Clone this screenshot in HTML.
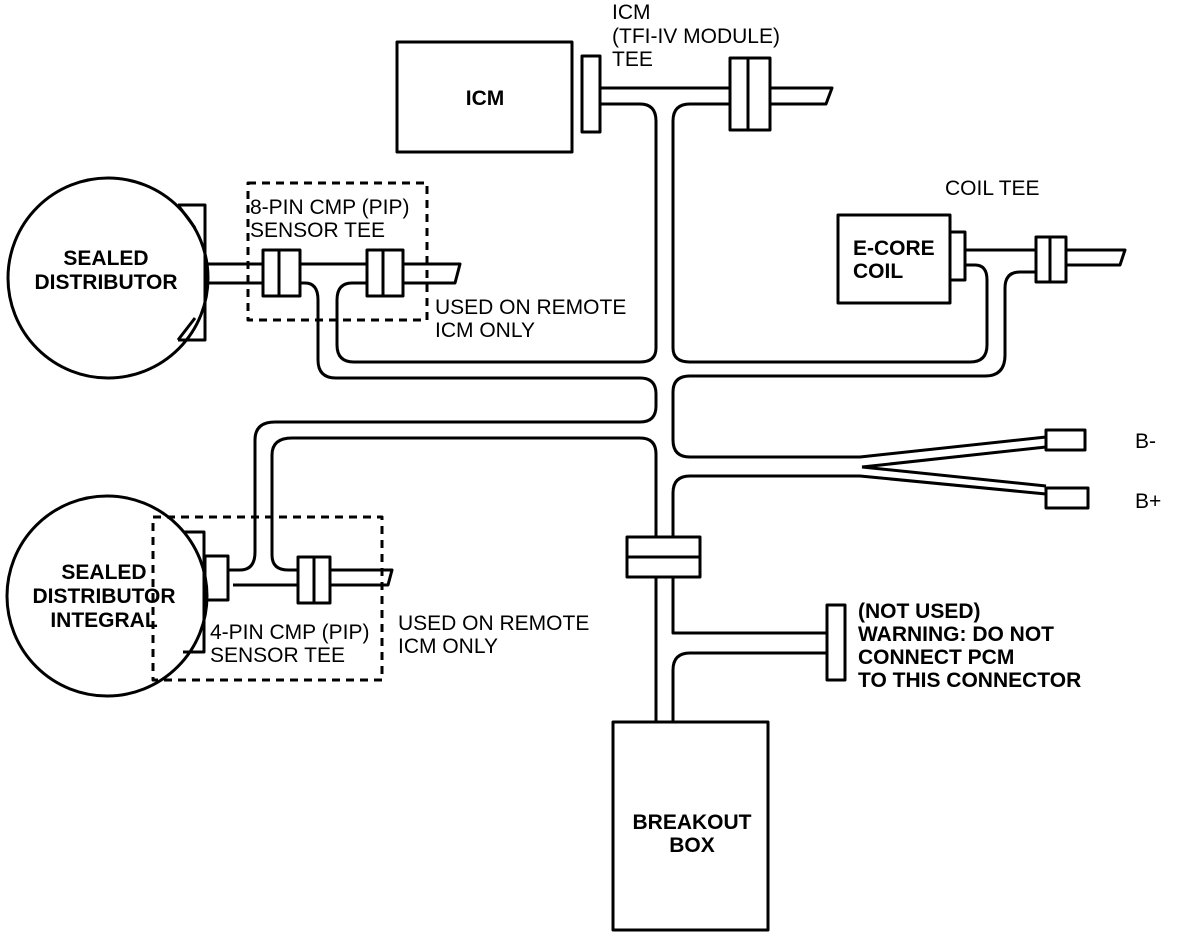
<!DOCTYPE html>
<html><head><meta charset="utf-8"><style>
html,body{margin:0;padding:0;background:#fff}
svg{display:block}
text{font-family:"Liberation Sans",Arial,sans-serif;font-size:21px;fill:#000}
.b{font-weight:bold;font-size:21px}
</style></head><body>
<svg width="1184" height="940" viewBox="0 0 1184 940" xmlns="http://www.w3.org/2000/svg">
<g fill="none" stroke="#000" stroke-width="3" stroke-linejoin="round">
<!-- ICM -->
<rect x="397" y="42" width="175" height="110" fill="#fff"/>
<rect x="582" y="56" width="18" height="76"/>
<path d="M600 88 H730 M770 88 H832 L826 104 H770 M730 104 H690 Q673 104 673 121 V348 Q673 362 690 362 H970 Q987 362 987 345 V280 Q987 265 975 265 H965"/>
<path d="M690 376 H985 Q1005 376 1005 355 V288 Q1005 272 1020 272 H1036"/>
<path d="M690 376 Q673 376 673 392 V440 Q673 457 690 457 H860 L1046 437"/>
<path d="M690 476 Q673 476 673 493 V633 H827 M827 653 H690 Q673 653 673 670 V722"/>
<path d="M690 476 H860 L1046 494"/>
<path d="M600 104 H640 Q656 104 656 121 V348 Q656 362 640 362 H354 Q337 362 337 345 V300 Q337 283 352 283 H367"/>
<path d="M300 283 H305 Q318 283 318 300 V360 Q318 378 336 378 H640 Q656 378 656 394 V406 Q656 422 640 422 H275 Q255 422 255 440 V552 Q255 570 240 570 H228"/>
<path d="M298 570 H288 Q272 570 272 555 V455 Q272 438 292 438 H640 Q656 438 656 454 V722"/>
<rect x="730" y="58" width="40" height="72" fill="#fff"/><line x1="748" y1="58" x2="748" y2="130"/>
<!-- sealed distributor -->
<circle cx="108" cy="278" r="100"/>
<path d="M178 205 H205 V340 H178 M178 205 L195 228 M178 340 L195 318"/>
<path d="M205 264 H263 M300 264 H367 M403 264 H460 L455 283 H403"/>
<path d="M205 283 H263"/>
<rect x="263" y="250" width="37" height="46" fill="#fff"/><line x1="279" y1="250" x2="279" y2="296"/>
<rect x="367" y="250" width="36" height="46" fill="#fff"/><line x1="383" y1="250" x2="383" y2="296"/>
<rect x="248" y="183" width="179" height="137" stroke-dasharray="8,6"/>
<!-- coil -->
<rect x="838" y="215" width="112" height="88" fill="#fff"/>
<rect x="950" y="232" width="15" height="48"/>
<path d="M965 250 H1036 M1066 250 H1125 L1120 265 H1066"/>
<rect x="1036" y="237" width="30" height="45" fill="#fff"/><line x1="1050" y1="237" x2="1050" y2="282"/>
<!-- B- B+ -->
<path d="M862 467 L1046 447 M862 467 L1046 486"/>
<path d="M1046 430 H1085 V450 H1046 Z"/>
<path d="M1046 488 H1088 V508 H1046 Z"/>
<!-- integral distributor -->
<circle cx="107" cy="596" r="100"/>
<path d="M183 532 H204 V652 H183"/>
<rect x="205" y="556" width="23" height="44"/>
<path d="M233 585 H298 M330 570 H392 L388 585 H330"/>
<rect x="298" y="557" width="32" height="46" fill="#fff"/><line x1="314" y1="557" x2="314" y2="603"/>
<rect x="153" y="517" width="229" height="163" stroke-dasharray="8,6"/>
<!-- breakout tee and not used -->
<rect x="627" y="537" width="73" height="40" fill="#fff"/><line x1="627" y1="557" x2="700" y2="557"/>
<rect x="827" y="605" width="18" height="75" fill="#fff"/>
<rect x="613" y="722" width="155" height="208" fill="#fff"/>
</g>
<text x="612" y="19">ICM</text>
<text x="612" y="43">(TFI-IV MODULE)</text>
<text x="612" y="66">TEE</text>
<text class="b" x="485" y="105" text-anchor="middle">ICM</text>
<text class="b" x="106" y="265" text-anchor="middle">SEALED</text>
<text class="b" x="106" y="289" text-anchor="middle">DISTRIBUTOR</text>
<text x="250" y="214">8-PIN CMP (PIP)</text>
<text x="250" y="237">SENSOR TEE</text>
<text x="435" y="314">USED ON REMOTE</text>
<text x="435" y="337">ICM ONLY</text>
<text x="945" y="195">COIL TEE</text>
<text class="b" x="853" y="255">E-CORE</text>
<text class="b" x="853" y="278">COIL</text>
<text x="1135" y="448">B-</text>
<text x="1135" y="508">B+</text>
<text class="b" x="104" y="579" text-anchor="middle">SEALED</text>
<text class="b" x="104" y="603" text-anchor="middle">DISTRIBUTOR</text>
<text class="b" x="104" y="627" text-anchor="middle">INTEGRAL</text>
<text x="210" y="639">4-PIN CMP (PIP)</text>
<text x="210" y="662">SENSOR TEE</text>
<text x="398" y="630">USED ON REMOTE</text>
<text x="398" y="653">ICM ONLY</text>
<text class="b" x="858" y="618">(NOT USED)</text>
<text class="b" x="858" y="641">WARNING: DO NOT</text>
<text class="b" x="858" y="664">CONNECT PCM</text>
<text class="b" x="858" y="687">TO THIS CONNECTOR</text>
<text class="b" x="692" y="829" text-anchor="middle">BREAKOUT</text>
<text class="b" x="692" y="852" text-anchor="middle">BOX</text>
</svg>
</body></html>
